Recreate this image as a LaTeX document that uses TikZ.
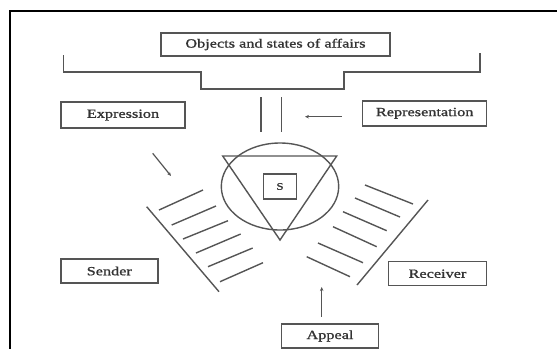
\documentclass[tikz,border=0pt]{standalone}
\usepackage{fontspec}
\setmainfont{Liberation Serif}[FakeStretch=1.3,FakeBold=1.2,BoldFont={Liberation Serif},BoldFeatures={FakeStretch=1.3,FakeBold=1.2}]
\usetikzlibrary{arrows.meta}
\definecolor{ln}{HTML}{555555}
\definecolor{tx}{HTML}{333333}
\tikzset{
  lbox/.style={draw=ln, line width=1.5pt, inner sep=0pt, text=tx,
    font=\fontsize{12.5}{14}\selectfont\bfseries},
  gline/.style={draw=ln, line width=1.4pt},
  garrow/.style={draw=ln, line width=1.2pt, -{Stealth[length=4pt,width=3.5pt]}},
}
\begin{document}
\begin{tikzpicture}[x=1pt,y=-1pt]
\useasboundingbox (0,0) rectangle (557,349);
% frame (top and left only)
\draw[black, line width=2pt] (557,10.7) -- (10,10.7) -- (10,349);
% boxes
\node[lbox, minimum width=229pt, minimum height=23pt] (obj) at (275.5,44.5) {Objects and states of affairs};
\node[lbox, minimum width=124pt, minimum height=26pt] (expr) at (123,115) {Expression};
\node[lbox, minimum width=124pt, minimum height=25pt] (repr) at (424.7,113.3) {Representation};
\node[lbox, minimum width=97pt, minimum height=24pt] (sender) at (109.3,271) {Sender};
\node[lbox, minimum width=98pt, minimum height=24pt] (receiver) at (437.5,273.7) {Receiver};
\node[lbox, minimum width=97pt, minimum height=24pt] (appeal) at (330,336) {Appeal};
\node[lbox, minimum width=33pt, minimum height=25pt, font=\fontsize{10}{12}\selectfont\bfseries] (s) at (280,186.5) {S};
% bracket
\draw[gline] (63.3,55) -- (63.3,72) -- (201,72) -- (201,89) -- (344,89) -- (344,72) -- (480,72) -- (480,53);
% two vertical lines
\draw[gline] (261,97) -- (261,132);
\draw[gline] (281.7,97) -- (281.7,132);
% ellipse and triangle
\draw[gline] (s.center) ellipse [x radius=58.7, y radius=43.5];
\draw[gline] (222.7,156) -- (336.7,156) -- (280,240) -- cycle;
% left hatching
\draw[gline] (146.7,206.7) -- (219,291.7);
\draw[gline] (159,210) -- (203,190);
\draw[gline] (171.7,225) -- (216,206);
\draw[gline] (183,239) -- (228,220.7);
\draw[gline] (196,253) -- (240.7,234);
\draw[gline] (208,266.7) -- (252.7,248);
\draw[gline] (220,281.7) -- (263,262.7);
% right hatching
\draw[gline] (428,200) -- (357,285);
\draw[gline] (365,185) -- (413,204);
\draw[gline] (355,198) -- (400,217);
\draw[gline] (343,211.7) -- (386.7,230.7);
\draw[gline] (333,226.7) -- (376.7,246.7);
\draw[gline] (318,243) -- (363,262.7);
\draw[gline] (306.7,256.7) -- (350,276.7);
% arrows
\coordinate (ea) at (152.7,153.3);
\coordinate (eb) at (171,176);
\coordinate (ra) at (341.7,116.7);
\coordinate (rb) at (305,116.7);
\coordinate (aa) at (321.7,316.7);
\coordinate (ab) at (321.7,287);
\draw[garrow] (ea) -- (eb);
\draw[garrow] (ra) -- (rb);
\draw[garrow] (aa) -- (ab);
\end{tikzpicture}
\end{document}
